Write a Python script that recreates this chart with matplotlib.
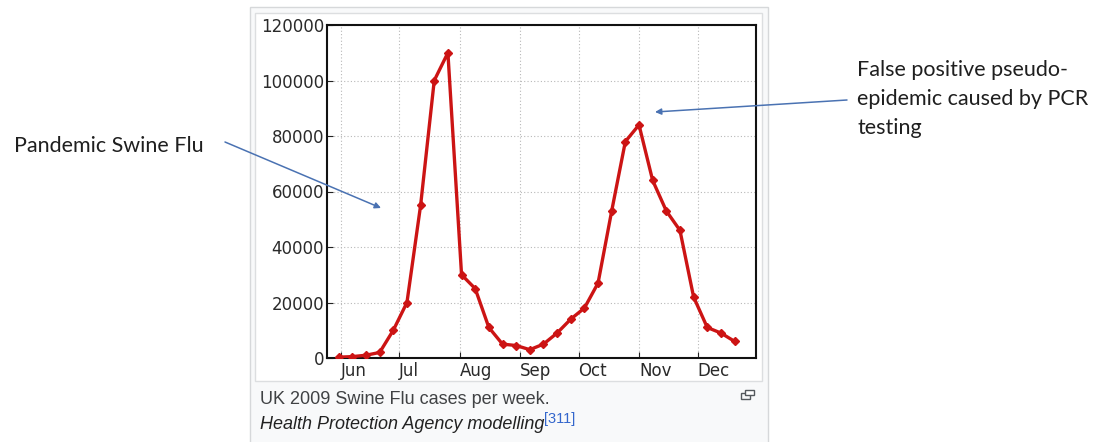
import matplotlib
matplotlib.use("Agg")
import matplotlib.pyplot as plt
from matplotlib.patches import Rectangle, FancyArrowPatch
import pandas as pd

# ---- data ----
first_week = "2009-05-31"
cases = [300, 500, 1000, 2000, 10000, 20000, 55000, 100000, 110000, 30000,
         25000, 11000, 5000, 4500, 3000, 5000, 9000, 14000, 18000, 27000,
         53000, 78000, 84000, 64000, 53000, 46000, 22000, 11000, 9000, 6000]
y_ticks = [0, 20000, 40000, 60000, 80000, 100000, 120000]
month_starts = ["2009-06-01", "2009-07-01", "2009-08-01", "2009-09-01",
                "2009-10-01", "2009-11-01", "2009-12-01"]
month_labels = ["Jun", "Jul", "Aug", "Sep", "Oct", "Nov", "Dec"]
caption1 = "UK 2009 Swine Flu cases per week."
caption2 = "Health Protection Agency modelling"
ref_mark = "[311]"
note_left = "Pandemic Swine Flu"
note_right = ["False positive pseudo-", "epidemic caused by PCR", "testing"]

dates = pd.date_range(first_week, periods=len(cases), freq="7D")

W, H = 1100, 442
fig = plt.figure(figsize=(W / 100, H / 100), dpi=100)
fig.patch.set_facecolor("white")

def fx(x):
    return x / W

def fy(y):
    return 1 - y / H

# Wikipedia thumbnail frame
fig.add_artist(Rectangle((fx(250), fy(445)), fx(768) - fx(250), fy(7) - fy(445),
                         transform=fig.transFigure, facecolor="#f8f9fa",
                         edgecolor="#d6d8da", lw=1.0, zorder=0))
fig.add_artist(Rectangle((fx(255), fy(381)), fx(762) - fx(255), fy(13) - fy(381),
                         transform=fig.transFigure, facecolor="white",
                         edgecolor="#dcdee0", lw=1.0, zorder=0))

# chart axes
ax = fig.add_axes([fx(327), fy(358), fx(756) - fx(327), fy(25) - fy(358)])
ax.plot(dates, cases, color="#cc1414", lw=2.4, marker="D", markersize=4.5,
        markeredgecolor="#cc1414", markerfacecolor="#cc1414", zorder=3)
ax.set_xlim(pd.Timestamp("2009-05-25"), pd.Timestamp("2009-12-31"))
ax.set_ylim(0, 120000)
ax.set_yticks(y_ticks)
ax.set_yticklabels([str(v) for v in y_ticks])
ax.set_xticks(pd.to_datetime(month_starts))
ax.set_xticklabels(month_labels, ha="left")
ax.grid(True, color="#b8b8b8", linestyle=(0, (1, 2)), lw=0.8)
ax.tick_params(direction="in", length=4, width=0.8, colors="#222222",
               labelsize=12, pad=2, labelcolor="#2a2a2a")
ax.tick_params(axis="x", pad=3)
for lbl in ax.get_xticklabels() + ax.get_yticklabels():
    lbl.set_fontfamily("DejaVu Sans")
for s in ax.spines.values():
    s.set_linewidth(1.5)
    s.set_color("#111111")

# caption
fig.text(fx(260), fy(404), caption1, fontsize=13, color="#404244",
         family="Liberation Sans", va="baseline", ha="left")
fig.text(fx(260), fy(429), caption2, fontsize=13, color="#222222",
         family="Liberation Sans", style="italic", va="baseline", ha="left")
fig.text(fx(544), fy(423), ref_mark, fontsize=10.5, color="#3366cc",
         family="Liberation Sans", va="baseline", ha="left")

# expand icon
fig.add_artist(Rectangle((fx(741), fy(399)), fx(9) - fx(0), fy(0) - fy(6),
                         transform=fig.transFigure, facecolor="none",
                         edgecolor="#54595d", lw=1.0))
fig.add_artist(Rectangle((fx(745), fy(395)), fx(9) - fx(0), fy(0) - fy(5),
                         transform=fig.transFigure, facecolor="white",
                         edgecolor="#54595d", lw=1.0))

# annotations
fig.text(fx(14), fy(152), note_left, fontsize=15.5, color="#1f1f1f",
         family="Lato", va="baseline", ha="left")
for i, line in enumerate(note_right):
    fig.text(fx(857), fy(76 + 29 * i), line, fontsize=15.5, color="#1f1f1f",
             family="Lato", va="baseline", ha="left")

arrow_kw = dict(transform=fig.transFigure, arrowstyle="-|>", mutation_scale=9,
                color="#4a72b2", lw=1.1, shrinkA=0, shrinkB=0)
fig.add_artist(FancyArrowPatch((fx(225), fy(142)), (fx(381), fy(208)), **arrow_kw))
fig.add_artist(FancyArrowPatch((fx(847), fy(100)), (fx(655), fy(112)), **arrow_kw))

fig.savefig("out.png", dpi=100, facecolor="white")
